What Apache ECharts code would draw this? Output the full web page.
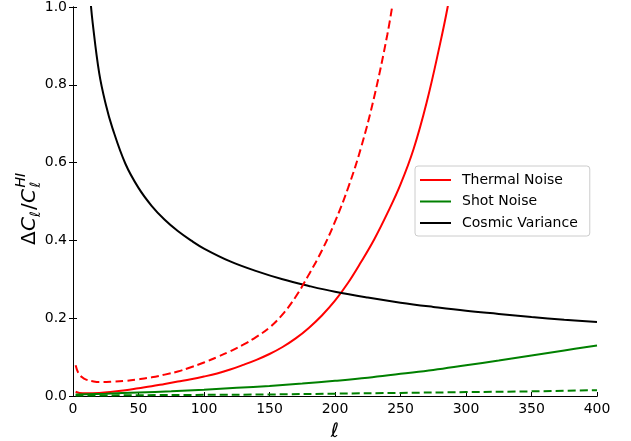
<!DOCTYPE html>
<html>
<head>
<meta charset="utf-8">
<script src="https://cdn.jsdelivr.net/npm/echarts@6/dist/echarts.min.js"></script>
<style>html,body{margin:0;padding:0;background:#fff;}#c{width:631px;height:441px;}</style>
</head>
<body>
<div id="c"></div>
<script>
// ---- data ----
const xTicks = [0, 50, 100, 150, 200, 250, 300, 350, 400];
const yTicks = [0.0, 0.2, 0.4, 0.6, 0.8, 1.0];

const thermalL = [2,5,10,20,30,40,50,60,70,80,90,100,110,120,130,140,150,160,170,180,190,200,210,220,230,240,250,260,270,280,286,290];
const thermalV = [0.011,0.008,0.007,0.008,0.011,0.015,0.020,0.025,0.031,0.037,0.043,0.050,0.058,0.068,0.080,0.093,0.108,0.126,0.148,0.175,0.207,0.245,0.291,0.345,0.403,0.470,0.544,0.635,0.755,0.902,1.000,1.080];

const thermalDashL = [2,4,7,10,15,20,30,40,50,60,70,80,90,100,110,120,130,140,150,160,170,180,190,200,210,220,230,240,245];
const thermalDashV = [0.079,0.060,0.048,0.042,0.038,0.036,0.037,0.039,0.043,0.048,0.055,0.063,0.074,0.086,0.100,0.115,0.132,0.152,0.176,0.210,0.255,0.312,0.374,0.448,0.535,0.640,0.770,0.930,1.030];

const shotL = [2,25,50,75,100,125,150,175,200,225,250,275,300,325,350,375,400];
const shotV = [0.004,0.006,0.009,0.012,0.016,0.021,0.026,0.032,0.039,0.047,0.057,0.067,0.079,0.091,0.104,0.117,0.130];

const shotDashL = [2,50,100,150,200,250,300,350,400];
const shotDashV = [0.001,0.002,0.003,0.004,0.006,0.008,0.010,0.012,0.015];

const cosmicL = [13,15,20,25,30,40,50,60,70,80,90,100,120,140,160,180,200,225,250,275,300,325,350,375,400];
const cosmicV = [1.03,0.96,0.83,0.75,0.69,0.597,0.535,0.489,0.453,0.424,0.400,0.379,0.346,0.321,0.300,0.283,0.268,0.253,0.240,0.229,0.219,0.211,0.203,0.196,0.190];

const legendNames = ['Thermal Noise', 'Shot Noise', 'Cosmic Variance'];
// ---------------------------------------

function pairs(xs, ys) { return xs.map((x, i) => [x, ys[i]]); }
const FONT = 'DejaVu Sans';

function lineSeries(name, xs, ys, color, dashed) {
  return {
    type: 'line', name: name, data: pairs(xs, ys),
    showSymbol: false, symbol: 'none', smooth: 0.4,
    clip: true, silent: true, animation: false,
    lineStyle: { color: color, width: 2, type: dashed ? [8, 4] : 'solid' },
    itemStyle: { color: color }
  };
}

const chart = echarts.init(document.getElementById('c'), null, { renderer: 'canvas' });
const axisLine = { show: true, lineStyle: { color: '#000', width: 1 } };

const mainFont = 20, scriptFont = 14;
chart.setOption({
  animation: false,
  backgroundColor: '#fff',
  textStyle: { fontFamily: FONT },
  grid: { left: 73, right: 34, top: 5, bottom: 45, containLabel: false },
  xAxis: [{
    type: 'value', min: 0, max: 400, interval: 50,
    axisLine: axisLine,
    axisTick: { show: true, inside: true, length: 4, lineStyle: { color: '#000' } },
    axisLabel: { color: '#000', fontSize: 14, fontFamily: FONT, margin: 6,
      formatter: v => xTicks.includes(v) ? String(v) : '' },
    splitLine: { show: false }
  }, {
    type: 'value', min: 0, max: 400, position: 'top',
    axisLine: axisLine, axisTick: { show: false }, axisLabel: { show: false }, splitLine: { show: false }
  }],
  yAxis: [{
    type: 'value', min: 0, max: 1, interval: 0.2,
    axisLine: axisLine,
    axisTick: { show: true, inside: true, length: 4, lineStyle: { color: '#000' } },
    axisLabel: { color: '#000', fontSize: 14, fontFamily: FONT, margin: 6,
      formatter: v => v.toFixed(1) },
    splitLine: { show: false }
  }, {
    type: 'value', min: 0, max: 1, interval: 0.2, position: 'right',
    axisLine: axisLine,
    axisTick: { show: true, inside: true, length: 4, lineStyle: { color: '#000' } },
    axisLabel: { show: false }, splitLine: { show: false }
  }],
  legend: {
    data: legendNames,
    orient: 'vertical', left: 415, top: 166,
    padding: [6, 12, 5, 5],
    itemWidth: 31, itemHeight: 2, itemGap: 5.5,
    icon: 'rect',
    backgroundColor: '#fff', borderColor: '#cccccc', borderWidth: 1, borderRadius: 3,
    textStyle: { color: '#000', fontSize: 14, fontFamily: FONT, lineHeight: 16, padding: [0, 0, 0, 6] }
  },
  series: [
    lineSeries('Thermal Noise', thermalL, thermalV, '#ff0000', false),
    lineSeries('Shot Noise', shotL, shotV, '#008000', false),
    lineSeries('Cosmic Variance', cosmicL, cosmicV, '#000000', false),
    lineSeries('Thermal Noise dashed', thermalDashL, thermalDashV, '#ff0000', true),
    lineSeries('Shot Noise dashed', shotDashL, shotDashV, '#008000', true)
  ],
  graphic: [
    {
      type: 'group', x: 30, y: 245, rotation: Math.PI / 2,
      children: [
        { type: 'text', x: 0, y: 0, style: { text: 'Δ', font: mainFont + 'px ' + FONT, fill: '#000', textAlign: 'left', textVerticalAlign: 'middle' } },
        { type: 'text', x: 14, y: 0, style: { text: 'C', font: 'italic ' + mainFont + 'px ' + FONT, fill: '#000', textAlign: 'left', textVerticalAlign: 'middle' } },
        { type: 'text', x: 28, y: 6, style: { text: 'ℓ', font: 'italic ' + scriptFont + 'px ' + FONT, fill: '#000', textAlign: 'left', textVerticalAlign: 'middle' } },
        { type: 'text', x: 35, y: 0, style: { text: '/', font: mainFont + 'px ' + FONT, fill: '#000', textAlign: 'left', textVerticalAlign: 'middle' } },
        { type: 'text', x: 42, y: 0, style: { text: 'C', font: 'italic ' + mainFont + 'px ' + FONT, fill: '#000', textAlign: 'left', textVerticalAlign: 'middle' } },
        { type: 'text', x: 57.5, y: 6, style: { text: 'ℓ', font: 'italic ' + scriptFont + 'px ' + FONT, fill: '#000', textAlign: 'left', textVerticalAlign: 'middle' } },
        { type: 'text', x: 57.5, y: -9, style: { text: 'HI', font: 'italic ' + scriptFont + 'px ' + FONT, fill: '#000', textAlign: 'left', textVerticalAlign: 'middle' } }
      ]
    },
    {
      type: 'text', x: 335, y: 432,
      style: { text: 'ℓ', font: 'italic ' + mainFont + 'px ' + FONT, fill: '#000', textAlign: 'center', textVerticalAlign: 'middle' }
    }
  ]
});
</script>
</body>
</html>
